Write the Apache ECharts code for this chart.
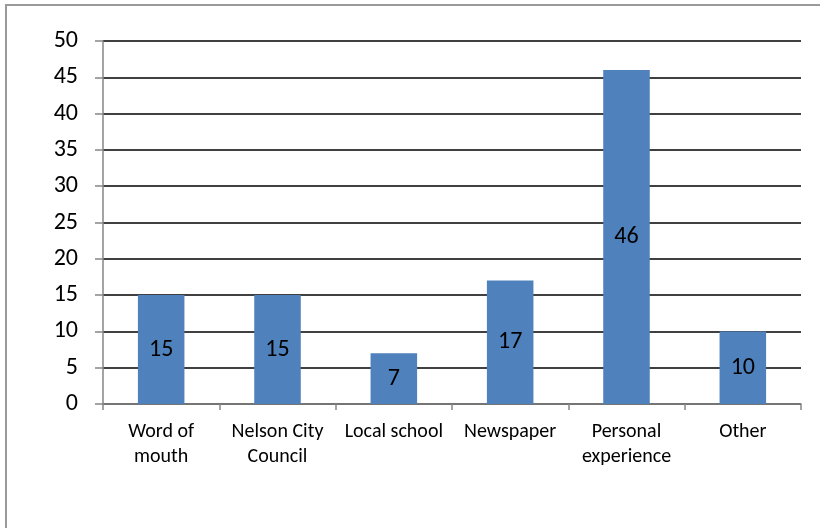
<!DOCTYPE html>
<html>
<head>
<meta charset="utf-8">
<script src="https://cdn.jsdelivr.net/npm/echarts@6/dist/echarts.min.js"></script>
<style>
  html, body { margin: 0; padding: 0; background: #fff; }
  #chart { width: 820px; height: 528px; }
</style>
</head>
<body>
<div id="chart"></div>
<script>
// Where respondents heard about it
const categories = ['Word of\nmouth', 'Nelson City\nCouncil', 'Local school', 'Newspaper', 'Personal\nexperience', 'Other'];
const counts = [15, 15, 7, 17, 46, 10];
const yMin = 0;
const yMax = 50;
const yStep = 5;

const chart = echarts.init(document.getElementById('chart'), null, { renderer: 'canvas' });
const font = 'Carlito, Lato, "Noto Sans", sans-serif';

chart.setOption({
  animation: false,
  backgroundColor: '#fff',
  graphic: [{
    type: 'rect',
    shape: { x: 6, y: 5, width: 900, height: 700 },
    style: { fill: 'none', stroke: '#9a9a9a', lineWidth: 2 },
    silent: true
  }],
  grid: { left: 103, right: 19, top: 41, bottom: 124 },
  xAxis: {
    type: 'category',
    data: categories,
    axisLine: { lineStyle: { color: '#868686', width: 1.5 } },
    axisTick: { show: true, length: 6, lineStyle: { color: '#868686', width: 1.5 } },
    axisLabel: {
      color: '#000', fontSize: 20, fontFamily: font,
      lineHeight: 25, margin: 15, interval: 0
    }
  },
  yAxis: {
    type: 'value',
    min: yMin, max: yMax, interval: yStep,
    axisLine: { show: true, lineStyle: { color: '#868686', width: 1.5 } },
    axisTick: { show: true, length: 8, lineStyle: { color: '#868686', width: 1.5 } },
    axisLabel: { color: '#000', fontSize: 24, fontFamily: font, margin: 25 },
    splitLine: { show: true, lineStyle: { color: '#000', width: 1.6 } }
  },
  series: [{
    type: 'bar',
    data: counts,
    barWidth: '40%',
    itemStyle: { color: '#4F81BD' },
    label: {
      show: true, position: 'inside',
      color: '#000', fontSize: 24, fontFamily: font
    }
  }]
});
</script>
</body>
</html>
